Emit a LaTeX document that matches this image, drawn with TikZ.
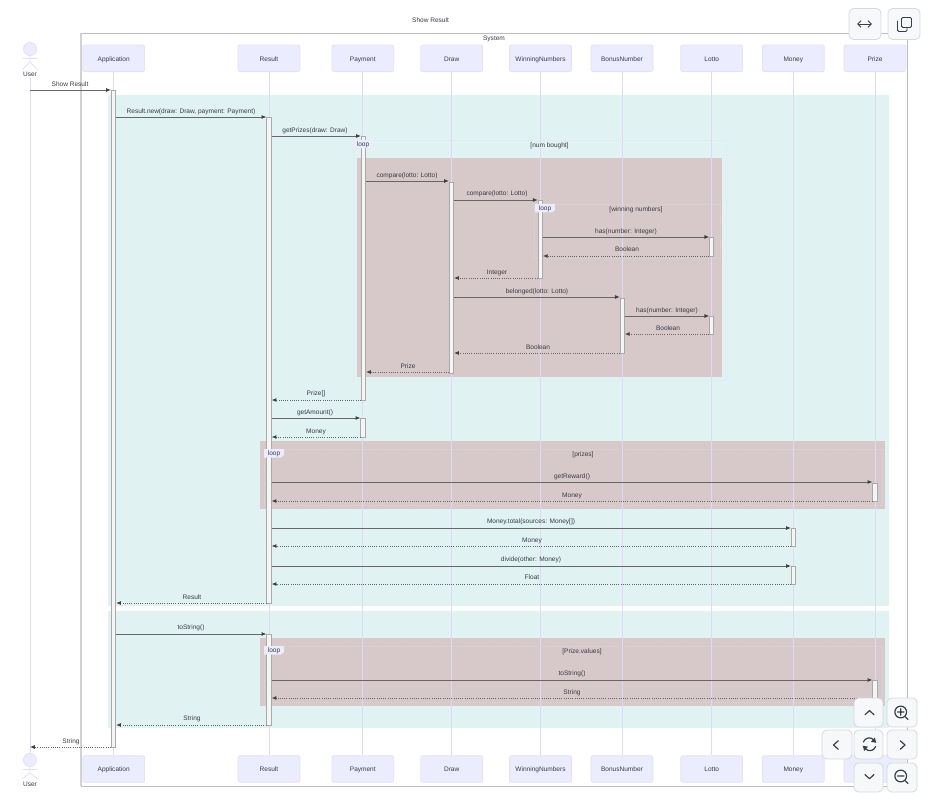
\documentclass[tikz,border=0pt]{standalone}
\usepackage{fontspec}
\setmainfont{Liberation Sans}
\usetikzlibrary{arrows.meta,calc}
\definecolor{actfill}{HTML}{ECECFF}
\definecolor{actline}{HTML}{E6E1F7}
\definecolor{lifeln}{HTML}{E0DAF0}
\definecolor{teal1}{HTML}{E0F2F1}
\definecolor{brown1}{HTML}{D7C9C9}
\definecolor{framegr}{HTML}{BDBDBD}
\definecolor{frameleft}{HTML}{D2D2D2}
\definecolor{txt}{HTML}{3A3A44}
\definecolor{msgc}{HTML}{666666}
\definecolor{btnfill}{HTML}{F6F8FA}
\definecolor{btnline}{HTML}{D5D9DF}
\definecolor{icon}{HTML}{3A3F45}
\definecolor{barline}{HTML}{A9A9A9}
\definecolor{faint}{HTML}{DDD3DE}
\tikzset{
  x=0.75pt,y=-0.75pt,
  every node/.style={font=\fontsize{4.9pt}{6pt}\selectfont,text=txt,inner sep=0pt,text height=5.2pt,text depth=0.9pt},
  actorbox/.style={draw=actline,fill=actfill,rounded corners=1pt,line width=0.6pt,minimum width=46.3pt,minimum height=20pt},
  lifeline/.style={draw=lifeln,line width=0.75pt},
  bar/.style={draw=barline,fill=white!96!black,line width=0.75pt,minimum width=3.1pt,text height=,text depth=},
  msg/.style={draw=msgc,line width=0.65pt,-{Latex[length=3.6pt,width=3pt,color=black!75]}},
  ret/.style={draw=msgc,line width=0.65pt,densely dotted,-{Latex[length=3.6pt,width=3pt,color=black!75]}},
  mlabel/.style={},
  loopframe/.style={draw=actline,line width=0.5pt,densely dotted},
  faintframe/.style={draw=faint,line width=0.4pt,densely dotted},
  btn/.style={draw=btnline,fill=btnfill,rounded corners=3.5pt,line width=0.6pt},
  ic/.style={draw=icon,line width=0.9pt,line cap=round,line join=round},
  stick/.style={draw=actline!70!lifeln,line width=0.6pt}
}
\newcommand{\vbar}[5]{\node[bar,minimum height=#4*0.75pt-#3*0.75pt,anchor=north] (#1) at (#2,#3) {};}
\newcommand{\lbl}[3]{\node[mlabel] at (#1,#2) {#3};}
\newcommand{\stickman}[3]{%
  \draw[stick,fill=actfill] (#1,#2) circle[radius=4.9pt];
  \draw[stick] (#1,#2+6.5) -- (#1,#2+13) (#1-7.5,#2+9.5) -- (#1+7.5,#2+9.5) (#1,#2+13) -- (#1-7.5,#2+#3) (#1,#2+13) -- (#1+7.5,#2+#3);
}
\begin{document}
\begin{tikzpicture}
\useasboundingbox (0,0) rectangle (939,802);
% System frame
\draw[framegr,line width=0.7pt] (81,33) rectangle (907,786);
\draw[frameleft,line width=1.1pt] (81,33) -- (81,786);
\node at (494,37.5) {System};
\node at (430.5,20) {Show Result};
% coloured regions
\fill[teal1] (108,95) rectangle (889,606);
\fill[teal1] (108,611) rectangle (889,728);
\fill[brown1] (357,158) rectangle (722,377);
\fill[brown1] (260,441) rectangle (885,509);
\fill[brown1] (260,638) rectangle (885,706);
% actors
\foreach \n/\t/\x in {app/Application/113.7,res/Result/269,pay/Payment/362.8,drw/Draw/451.7,win/WinningNumbers/540.5,bon/BonusNumber/622,lot/Lotto/711.7,mon/Money/793.3,pri/Prize/875}{
  \node[actorbox] (\n) at (\x,58.3) {\t};
  \node[actorbox] (\n b) at (\x,769) {\t};
  \draw[lifeline] (\n) -- (\n b);
}
\stickman{30}{49}{20.5}
\node (user) at (30,73.5) {User};
\stickman{30}{760}{18.5}
\node (userb) at (30,783.5) {User};
\coordinate (ubtop) at (30,753);
\draw[lifeline] (user) ++(0,5) -- (ubtop);
% loop frames
\draw[loopframe] (353,140) rectangle (726,380);
\draw[faintframe] (534,204) rectangle (720,258);
\draw[faintframe] (264,449) rectangle (882,505);
\draw[faintframe] (264,646) rectangle (882,702);
% activations
\vbar{aApp}{113.5}{90}{747}{}
\vbar{aRes}{269}{117}{603}{}
\vbar{aResB}{269}{634}{725}{}
\vbar{aPay}{363.5}{136}{400}{}
\vbar{aPayB}{363}{418}{437}{}
\vbar{aDrw}{451.5}{182}{373}{}
\vbar{aWin}{540.3}{200}{278.5}{}
\vbar{aBon}{622.3}{298}{353}{}
\vbar{aLot}{711.8}{237}{256}{}
\vbar{aLotB}{711.8}{316.5}{334.5}{}
\vbar{aPri}{875}{482.5}{501}{}
\vbar{aPriB}{875}{680}{698}{}
\vbar{aMon}{793.5}{528}{546}{}
\vbar{aMonB}{793.5}{566}{584}{}
% loop tags
\foreach \n/\x/\y in {t1/363/144,t2/545/208,t3/274/453,t4/274/650}{
  \path[fill=actfill] (\x-10,\y-4) -- (\x+10,\y-4) -- (\x+10,\y+2) -- (\x+7,\y+4.5) -- (\x-10,\y+4.5) -- cycle;
  \node (\n) at (\x,\y) {loop};
}
\node at (549.5,144.5) {[num bought]};
\node at (636,208.5) {[winning numbers]};
\node at (583,454) {[prizes]};
\node at (582,651) {[Prize.values]};
% messages
\draw[msg] (user |- 0,90) -- (aApp.west |- 0,90);
\draw[msg] (aApp.east |- 0,117) -- (aRes.west |- 0,117);
\draw[msg] (aRes.east |- 0,136) -- (aPay.west |- 0,136);
\draw[msg] (aPay.east |- 0,181) -- (aDrw.west |- 0,181);
\draw[msg] (aDrw.east |- 0,200) -- (aWin.west |- 0,200);
\draw[msg] (aWin.east |- 0,237) -- (aLot.west |- 0,237);
\draw[ret] (aLot.west |- 0,256) -- (aWin.east |- 0,256);
\draw[ret] (aWin.west |- 0,278) -- (aDrw.east |- 0,278);
\draw[msg] (aDrw.east |- 0,297) -- (aBon.west |- 0,297);
\draw[msg] (aBon.east |- 0,316) -- (aLotB.west |- 0,316);
\draw[ret] (aLotB.west |- 0,334) -- (aBon.east |- 0,334);
\draw[ret] (aBon.west |- 0,353) -- (aDrw.east |- 0,353);
\draw[ret] (aDrw.west |- 0,372) -- (aPay.east |- 0,372);
\draw[ret] (aPay.west |- 0,400) -- (aRes.east |- 0,400);
\draw[msg] (aRes.east |- 0,418) -- (aPayB.west |- 0,418);
\draw[ret] (aPayB.west |- 0,437) -- (aRes.east |- 0,437);
\draw[msg] (aRes.east |- 0,482) -- (aPri.west |- 0,482);
\draw[ret] (aPri.west |- 0,501) -- (aRes.east |- 0,501);
\draw[msg] (aRes.east |- 0,528) -- (aMon.west |- 0,528);
\draw[ret] (aMon.west |- 0,546) -- (aRes.east |- 0,546);
\draw[msg] (aRes.east |- 0,566) -- (aMonB.west |- 0,566);
\draw[ret] (aMonB.west |- 0,584) -- (aRes.east |- 0,584);
\draw[ret] (aRes.west |- 0,603) -- (aApp.east |- 0,603);
\draw[msg] (aApp.east |- 0,634) -- (aResB.west |- 0,634);
\draw[msg] (aResB.east |- 0,680) -- (aPriB.west |- 0,680);
\draw[ret] (aPriB.west |- 0,698) -- (aResB.east |- 0,698);
\draw[ret] (aResB.west |- 0,725) -- (aApp.east |- 0,725);
\draw[ret] (aApp.west |- 0,747) -- (user |- 0,747);
% labels
\lbl{70}{84}{Show Result}
\lbl{191}{110.5}{Result.new(draw: Draw, payment: Payment)}
\lbl{315}{129.5}{getPrizes(draw: Draw)}
\lbl{407}{174.5}{compare(lotto: Lotto)}
\lbl{497}{193}{compare(lotto: Lotto)}
\lbl{626}{230.5}{has(number: Integer)}
\lbl{627}{249}{Boolean}
\lbl{497}{271.5}{Integer}
\lbl{537}{290.5}{belonged(lotto: Lotto)}
\lbl{667}{310}{has(number: Integer)}
\lbl{668}{328}{Boolean}
\lbl{538}{347}{Boolean}
\lbl{408}{366}{Prize}
\lbl{316}{393}{Prize[]}
\lbl{315}{411.5}{getAmount()}
\lbl{316}{431}{Money}
\lbl{572}{475.5}{getReward()}
\lbl{572}{495}{Money}
\lbl{531}{521}{Money.total(sources: Money[])}
\lbl{532}{540}{Money}
\lbl{531}{559}{divide(other: Money)}
\lbl{532}{577}{Float}
\lbl{192}{597}{Result}
\lbl{191}{627}{toString()}
\lbl{572}{673}{toString()}
\lbl{572}{692}{String}
\lbl{192}{718}{String}
\lbl{71}{741}{String}
% overlay buttons
\draw[btn] (849,8.5) rectangle (881,39.5);
\draw[btn] (888,8.5) rectangle (920,39.5);
\draw[icon,line width=0.7pt,<->,>={Straight Barb[length=2.6pt,width=5pt]}] (857,24) -- (872,24);
\draw[ic,line width=0.7pt,rounded corners=1pt] (897.5,21) -- (897.5,31.5) -- (907,31.5) -- (907,28);
\draw[ic,line width=0.7pt,rounded corners=1pt] (901.5,17.5) rectangle (911.5,27.5);
\draw[btn] (854,698) rectangle (883,727);
\draw[btn] (887,698) rectangle (917,727);
\draw[btn] (822,730) rectangle (852,759);
\draw[btn] (854,730) rectangle (883,759);
\draw[btn] (887,730) rectangle (917,759);
\draw[btn] (854,763) rectangle (883,792);
\draw[btn] (887,763) rectangle (917,792);
\draw[ic] (865,714.8) -- (869.5,710.5) -- (874,714.8);
\draw[ic] (865,774.5) -- (869.5,778.8) -- (874,774.5);
\draw[ic] (838.3,740.7) -- (833.5,745) -- (838.3,749.3);
\draw[ic] (900.2,740.7) -- (905,745) -- (900.2,749.3);
\draw[ic] (900.7,712) circle[radius=4.4pt] (905.5,717) -- (908,719.5) (897.5,712) -- (904,712) (900.7,708.8) -- (900.7,715.2);
\draw[ic] (900.7,776) circle[radius=4.4pt] (905.5,781) -- (908,783.5) (897.5,776) -- (904,776);
\draw[ic] (863.4,742) arc[start angle=160,end angle=35,radius=4.7pt];
\draw[ic] (875.6,746.5) arc[start angle=-20,end angle=-145,radius=4.7pt];
\fill[icon] (874.8,737.5) -- (876.3,742.8) -- (871,741.8) -- cycle;
\fill[icon] (864.2,751) -- (862.7,745.7) -- (868,746.7) -- cycle;
\end{tikzpicture}
\end{document}
